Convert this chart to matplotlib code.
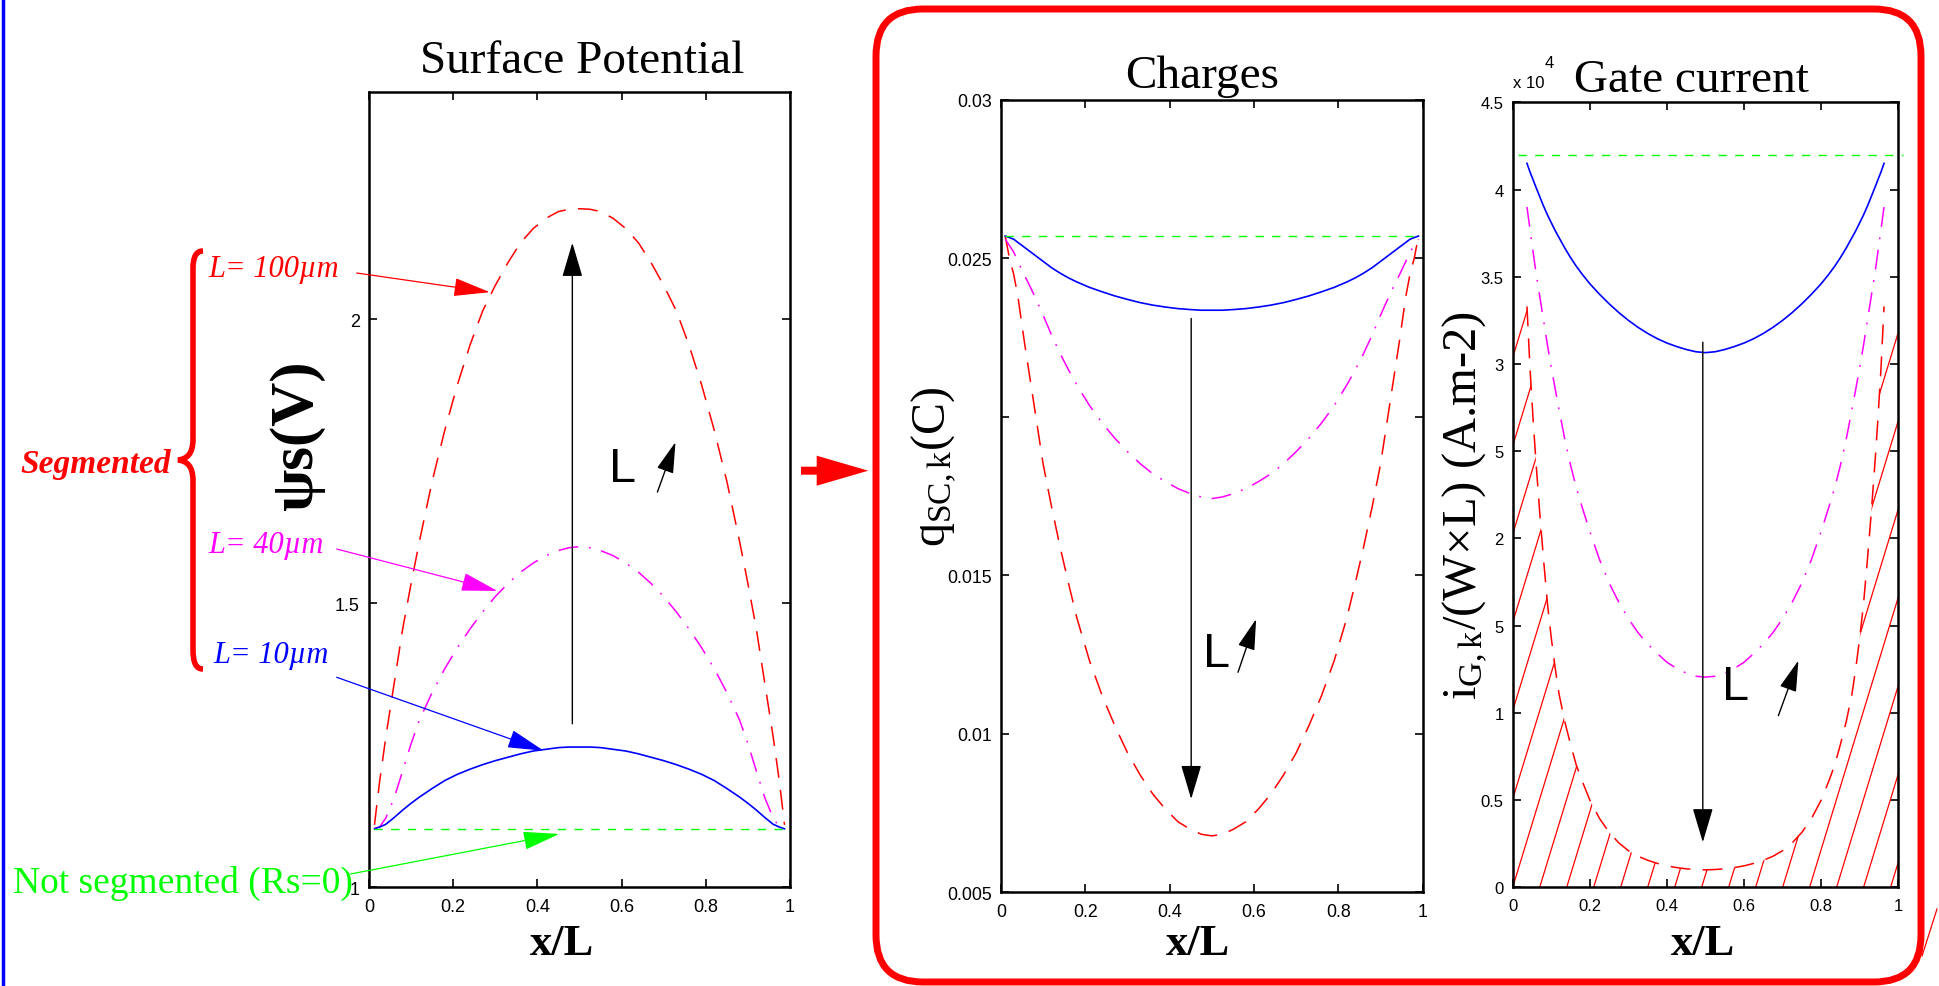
"""Surface potential / charges / gate current profiles along the channel (x/L)
for segmented and non-segmented devices. Writes out.png (1939x987)."""
import numpy as np
import matplotlib
matplotlib.use("Agg")
import matplotlib.pyplot as plt
from matplotlib.patches import FancyBboxPatch, FancyArrow, Polygon, PathPatch
from matplotlib.path import Path
from matplotlib.collections import LineCollection
from matplotlib.lines import Line2D

plt.rcParams["mathtext.fontset"] = "custom"
plt.rcParams["mathtext.rm"] = "Liberation Serif"
plt.rcParams["mathtext.it"] = "Liberation Serif:italic"
plt.rcParams["mathtext.bf"] = "Liberation Serif:bold"

SERIF = "Liberation Serif"
SANS = "Liberation Sans"
RED, MAG, BLUE, GREEN = "#ff0000", "#ff00ff", "#0000ff", "#00ff00"
W, H = 1939, 987

# ---------------- data ----------------
# surface potential psi_s (V)
psi_x = [0.013, 0.025, 0.04, 0.06, 0.08, 0.10, 0.12, 0.15, 0.18, 0.21, 0.24, 0.27, 0.30, 0.33, 0.36, 0.39, 0.42,
         0.45, 0.475, 0.50,
         0.525, 0.55, 0.58, 0.61, 0.64, 0.67, 0.70, 0.73, 0.76, 0.79, 0.82, 0.85, 0.88, 0.90, 0.92, 0.94, 0.96,
         0.975, 0.987]
psi_100 = [1.11, 1.185, 1.265, 1.36, 1.455, 1.535, 1.61, 1.715, 1.805, 1.885, 1.955, 2.015, 2.06, 2.10, 2.135, 2.16,
           2.178, 2.19, 2.194, 2.195,
           2.194, 2.19, 2.178, 2.16, 2.135, 2.10, 2.06, 2.015, 1.955, 1.885, 1.805, 1.715, 1.61, 1.535, 1.455, 1.36,
           1.265, 1.185, 1.11]
psi_40 = [1.104, 1.106, 1.122, 1.158, 1.205, 1.253, 1.295, 1.343, 1.385, 1.422, 1.455, 1.485, 1.512, 1.535, 1.555,
          1.571, 1.584, 1.593, 1.598, 1.600,
          1.598, 1.593, 1.584, 1.571, 1.555, 1.535, 1.512, 1.485, 1.455, 1.422, 1.385, 1.343, 1.295, 1.253, 1.205,
          1.158, 1.122, 1.106, 1.104]
psi_10 = [1.103, 1.106, 1.111, 1.123, 1.136, 1.148, 1.159, 1.174, 1.188, 1.199, 1.208, 1.216, 1.223, 1.229, 1.235,
          1.240, 1.243, 1.246, 1.247, 1.247,
          1.247, 1.246, 1.243, 1.240, 1.235, 1.229, 1.223, 1.216, 1.208, 1.199, 1.188, 1.174, 1.159, 1.148, 1.136,
          1.123, 1.111, 1.106, 1.103]
psi_rs0_x = [0.013, 0.987]
psi_rs0 = [1.103, 1.103]

# charges q_SC,k (C)
q_x = [0.01, 0.02, 0.03, 0.04, 0.055, 0.07, 0.085, 0.10, 0.12, 0.14, 0.16, 0.18, 0.21, 0.24, 0.27, 0.30, 0.33, 0.36,
       0.39, 0.42, 0.45, 0.475, 0.50,
       0.525, 0.55, 0.58, 0.61, 0.64, 0.67, 0.70, 0.73, 0.76, 0.79, 0.82, 0.84, 0.86, 0.88, 0.90, 0.915, 0.93, 0.945,
       0.96, 0.97, 0.98, 0.99]
q_100 = [0.0257, 0.0250, 0.0245, 0.0238, 0.0224, 0.0211, 0.0198, 0.0185, 0.01715, 0.0159, 0.01475, 0.01365, 0.0123,
         0.0112, 0.01025, 0.0094, 0.0087, 0.0081, 0.00762, 0.00722, 0.00698, 0.00683, 0.00678,
         0.00683, 0.00698, 0.00722, 0.00762, 0.0081, 0.0087, 0.0094, 0.01025, 0.0112, 0.0123, 0.01365, 0.01475, 0.0159,
         0.01715, 0.0185, 0.0198, 0.0211, 0.0224, 0.0238, 0.0245, 0.0250, 0.0257]
q_40 = [0.0256, 0.0254, 0.0252, 0.0249, 0.02448, 0.02408, 0.02365, 0.0232, 0.02257, 0.0220, 0.02148, 0.0210, 0.02035,
        0.0198, 0.01932, 0.0189, 0.01852, 0.0182, 0.01795, 0.01773, 0.01757, 0.01747, 0.01742,
        0.01747, 0.01757, 0.01773, 0.01795, 0.0182, 0.01852, 0.0189, 0.01932, 0.0198, 0.02035, 0.0210, 0.02148, 0.0220,
        0.02257, 0.0232, 0.02365, 0.02408, 0.02448, 0.0249, 0.0252, 0.0254, 0.0256]
q_10 = [0.0257, 0.02565, 0.0256, 0.0255, 0.02535, 0.0252, 0.02505, 0.0249, 0.0247, 0.02453, 0.02438, 0.02425, 0.02408,
        0.02394, 0.02381, 0.0237, 0.0236, 0.02352, 0.02346, 0.02341, 0.02338, 0.02336, 0.02336,
        0.02336, 0.02338, 0.02341, 0.02346, 0.02352, 0.0236, 0.0237, 0.02381, 0.02394, 0.02408, 0.02425, 0.02438,
        0.02453, 0.0247, 0.0249, 0.02505, 0.0252, 0.02535, 0.0255, 0.0256, 0.02565, 0.0257]
q_rs0_x = [0.01, 1.0]
q_rs0 = [0.0257, 0.0257]

# gate current i_G,k/(W x L), in units of 1e4 A.m-2
g_x = [0.037, 0.045, 0.053, 0.06, 0.07, 0.08, 0.09, 0.10, 0.11, 0.12, 0.135, 0.15, 0.165, 0.18, 0.20, 0.225, 0.25,
       0.275, 0.30, 0.325, 0.35, 0.375, 0.40, 0.425, 0.45, 0.475, 0.50,
       0.525, 0.55, 0.575, 0.60, 0.625, 0.65, 0.675, 0.70, 0.725, 0.75, 0.775, 0.80, 0.82, 0.835, 0.85, 0.865, 0.88,
       0.89, 0.90, 0.91, 0.92, 0.93, 0.94, 0.947, 0.955, 0.963]
g_100 = [3.33, 2.97, 2.68, 2.45, 2.15, 1.88, 1.63, 1.43, 1.26, 1.11, 0.95, 0.82, 0.70, 0.61, 0.50, 0.395, 0.315, 0.255,
         0.21, 0.178, 0.155, 0.137, 0.123, 0.113, 0.106, 0.102, 0.100,
         0.102, 0.106, 0.113, 0.123, 0.137, 0.155, 0.178, 0.21, 0.255, 0.315, 0.395, 0.50, 0.61, 0.70, 0.82, 0.95, 1.11,
         1.26, 1.43, 1.63, 1.88, 2.15, 2.45, 2.68, 2.97, 3.33]
g_40 = [3.90, 3.77, 3.64, 3.53, 3.39, 3.25, 3.11, 2.98, 2.86, 2.74, 2.57, 2.42, 2.29, 2.18, 2.04, 1.88, 1.745, 1.635,
        1.54, 1.46, 1.395, 1.34, 1.29, 1.255, 1.228, 1.21, 1.205,
        1.21, 1.228, 1.255, 1.29, 1.34, 1.395, 1.46, 1.54, 1.635, 1.745, 1.88, 2.04, 2.18, 2.29, 2.42, 2.57, 2.74,
        2.86, 2.98, 3.11, 3.25, 3.39, 3.53, 3.64, 3.77, 3.90]
g_10 = [4.15, 4.10, 4.055, 4.015, 3.96, 3.905, 3.855, 3.81, 3.765, 3.725, 3.665, 3.61, 3.56, 3.515, 3.46, 3.40, 3.345,
        3.295, 3.25, 3.21, 3.175, 3.145, 3.12, 3.10, 3.083, 3.07, 3.065,
        3.07, 3.083, 3.10, 3.12, 3.145, 3.175, 3.21, 3.25, 3.295, 3.345, 3.40, 3.46, 3.515, 3.56, 3.61, 3.665, 3.725,
        3.765, 3.81, 3.855, 3.905, 3.96, 4.015, 4.055, 4.10, 4.15]
g_rs0_x = [0.013, 1.013]
g_rs0 = [4.2, 4.2]

x_ticks = [0, 0.2, 0.4, 0.6, 0.8, 1]
x_ticklabels = ["0", "0.2", "0.4", "0.6", "0.8", "1"]
psi_yticks = [1, 1.5, 2]
psi_yticklabels = ["1", "1.5", "2"]
q_yticks = [0.005, 0.01, 0.015, 0.02, 0.025, 0.03]
q_yticklabels = ["0.005", "0.01", "0.015", "", "0.025", "0.03"]   # 0.02 hidden under the y label
g_yticks = [0, 0.5, 1, 1.5, 2, 2.5, 3, 3.5, 4, 4.5]
g_yticklabels = ["0", "0.5", "1", "5", "2", "5", "3", "3.5", "4", "4.5"]  # "1." / "2." hidden under the y label


# ---------------- helpers ----------------
def fpx(x, y):
    """pixel position (origin top-left) -> figure fraction"""
    return x / W, 1 - y / H


def axes_px(left, top, right, bottom):
    return [left / W, 1 - bottom / H, (right - left) / W, (bottom - top) / H]


def style(ax, ylim, yticks, yticklabels, fs=13):
    ax.set_xlim(0, 1)
    ax.set_ylim(*ylim)
    ax.set_xticks(x_ticks)
    ax.set_xticklabels(x_ticklabels)
    ax.set_yticks(yticks)
    ax.set_yticklabels(yticklabels)
    ax.tick_params(direction="in", length=5.8, width=1.2, top=True, right=True, labelsize=fs, pad=6.5)
    ax.tick_params(axis="x", pad=8)
    for lab in ax.get_xticklabels() + ax.get_yticklabels():
        lab.set_family(SANS)
    for s in ax.spines.values():
        s.set_linewidth(1.8)


def curves(ax, x, y100, y40, y10, xr, yr):
    ax.plot(x, y100, color=RED, lw=1.1, ls=(0, (13, 8)))
    ax.plot(x, y40, color=MAG, lw=1.1, ls=(0, (13, 7, 1.2, 7)))
    ax.plot(x, y10, color=BLUE, lw=1.2)
    ax.plot(xr, yr, color=GREEN, lw=1.0, ls=(0, (6, 6)), clip_on=False)


def arrow(ax, p0, p1, color="k", hl=1.08, hw=0.32, lw=1.0, coords="data"):
    ax.annotate("", xy=p1, xycoords="data", xytext=p0, textcoords=coords,
                arrowprops=dict(arrowstyle=f"-|>,head_length={hl},head_width={hw}", mutation_scale=20,
                                color=color, lw=lw, shrinkA=0, shrinkB=0))


fig = plt.figure(figsize=(W / 100, H / 100), dpi=100)

# ---------------- panel 1: surface potential ----------------
ax1 = fig.add_axes(axes_px(369, 93.3, 790, 888.3))
curves(ax1, psi_x, psi_100, psi_40, psi_10, psi_rs0_x, psi_rs0)
style(ax1, (1, 2.4), psi_yticks, psi_yticklabels, fs=13)
arrow(ax1, (0.483, 1.288), (0.483, 2.135))
ax1.text(0.57, 1.716, "L", family=SANS, fontsize=35, ha="left", va="baseline")
arrow(ax1, (0.685, 1.696), (0.728, 1.784), hl=0.97, hw=0.27)

# ---------------- panel 2: charges ----------------
ax2 = fig.add_axes(axes_px(1001, 100.7, 1422.7, 893.3))
curves(ax2, q_x, q_100, q_40, q_10, q_rs0_x, q_rs0)
style(ax2, (0.005, 0.03), q_yticks, q_yticklabels, fs=12.8)
arrow(ax2, (0.451, 0.0231), (0.451, 0.00794))
ax2.text(0.48, 0.01215, "L", family=SANS, fontsize=35, ha="left", va="baseline")
arrow(ax2, (0.562, 0.01194), (0.605, 0.01362), hl=0.97, hw=0.27)

# ---------------- panel 3: gate current ----------------
ax3 = fig.add_axes(axes_px(1512.7, 103.3, 1898.3, 888.3))
# hatched area under the L=100um curve
hx = np.r_[0.0, g_x, 1.0]
hy = np.r_[g_100[0], g_100, g_100[-1]]
clip = Polygon(np.c_[np.r_[hx, hx[::-1]], np.r_[hy, np.zeros_like(hy)]], closed=True,
               fill=False, ec="none", transform=ax3.transData)
ax3.add_patch(clip)
slope = 7.23
segs = [[(x0, 0.0), (x0 + 4.5 / slope, 4.5)] for x0 in np.arange(-9, 15) * 0.07]
hatch = LineCollection(segs, colors=RED, linewidths=0.9)
ax3.add_collection(hatch)
hatch.set_clip_path(clip)
curves(ax3, g_x, g_100, g_40, g_10, g_rs0_x, g_rs0)
style(ax3, (0, 4.5), g_yticks, g_yticklabels, fs=12)
arrow(ax3, (0.493, 3.125), (0.493, 0.258))
ax3.text(0.542, 1.079, "L", family=SANS, fontsize=35, ha="left", va="baseline")
arrow(ax3, (0.689, 0.984), (0.741, 1.30), hl=0.97, hw=0.27)

# ---------------- titles and axis labels ----------------
for (px, py), t in [((582, 73.3), "Surface Potential"), ((1202, 88.3), "Charges"), ((1691, 91.7), "Gate current")]:
    fig.text(*fpx(px, py), t, family=SERIF, fontsize=34, ha="center", va="baseline")
fig.text(*fpx(1513, 88), "x 10", family=SANS, fontsize=12, ha="left", va="baseline")
fig.text(*fpx(1545, 68), "4", family=SANS, fontsize=12, ha="left", va="baseline")
for px in (562, 1198, 1703):
    fig.text(*fpx(px, 955), "x/L", family=SERIF, fontsize=32, weight="bold", ha="center", va="baseline")
fig.text(*fpx(297, 435.5), "\u03c8s(V)", family=SERIF, fontsize=44, weight="bold",
         rotation=90, ha="center", va="center")
fig.text(*fpx(934, 467), r"q$_{\mathrm{SC,k}}$(C)", family=SERIF, fontsize=34.5,
         rotation=90, ha="center", va="center")
fig.text(*fpx(1465, 505), "i$_{\\mathrm{G,k}}$/(W\u00d7L) (A.m-2)", family=SERIF, fontsize=35,
         rotation=90, ha="center", va="center")

# ---------------- annotations on the left ----------------
for (px, py), t, c in [((208, 277), "L= 100\u00b5m", RED), ((208, 553), "L= 40\u00b5m", MAG),
                       ((213, 663), "L= 10\u00b5m", BLUE)]:
    fig.text(*fpx(px, py), t, family=SERIF, style="italic", fontsize=22, color=c, ha="left", va="baseline")
fig.text(*fpx(20.6, 473), "Segmented", family=SERIF, style="italic", weight="bold", fontsize=24, color=RED,
         ha="left", va="baseline")
fig.text(*fpx(13, 893), "Not segmented (Rs=0)", family=SERIF, fontsize=27, color=GREEN, ha="left", va="baseline")

arrow(ax1, fpx(356.7, 274), (0.287, 2.048), color=RED, hl=1.15, hw=0.29, lw=0.9, coords="figure fraction")
arrow(ax1, fpx(336.7, 550), (0.305, 1.522), color=MAG, hl=1.15, hw=0.29, lw=0.9, coords="figure fraction")
arrow(ax1, fpx(336.7, 678.3), (0.415, 1.2405), color=BLUE, hl=1.15, hw=0.29, lw=0.9, coords="figure fraction")
arrow(ax1, fpx(350.5, 875), (0.452, 1.094), color=GREEN, hl=1.15, hw=0.29, lw=0.9, coords="figure fraction")

# curly brace grouping the segmented cases (pixel coords -> inches)
brace_px = [(203, 252), (196, 252), (193, 258), (193, 270), (193, 440), (193, 455), (187, 460), (178, 461),
            (187, 462), (193, 467), (193, 482), (193, 650), (193, 664), (196, 670), (203, 670)]
codes = [Path.MOVETO, Path.CURVE4, Path.CURVE4, Path.CURVE4, Path.LINETO, Path.CURVE4, Path.CURVE4, Path.CURVE4,
         Path.CURVE4, Path.CURVE4, Path.CURVE4, Path.LINETO, Path.CURVE4, Path.CURVE4, Path.CURVE4]
brace = PathPatch(Path([(x / 100, (H - y) / 100) for x, y in brace_px], codes),
                  transform=fig.dpi_scale_trans, fill=False, ec=RED, lw=4.0)
fig.add_artist(brace)

# ---------------- frame decorations ----------------
fig.add_artist(Line2D([3 / W, 3 / W], [0, 1], transform=fig.transFigure, color=BLUE, lw=2.5))
fig.add_artist(FancyBboxPatch((876 / 100, 4 / 100), (1921 - 876) / 100, (983 - 10) / 100,
                              boxstyle="round,pad=0,rounding_size=0.47", transform=fig.dpi_scale_trans,
                              fill=False, ec=RED, lw=5))
fig.add_artist(FancyArrow(801 / 100, (H - 471.7) / 100, (868.3 - 801) / 100, 0, width=0.08, head_width=0.30,
                          head_length=0.516, length_includes_head=True, transform=fig.dpi_scale_trans,
                          color=RED, lw=0))
# stray hatch stroke that escapes past the frame, bottom right
fig.add_artist(Line2D([1937 / W, 1922 / W], [1 - 910 / H, 1 - 957 / H], transform=fig.transFigure,
                      color=RED, lw=0.9))

fig.savefig("out.png", dpi=100)
